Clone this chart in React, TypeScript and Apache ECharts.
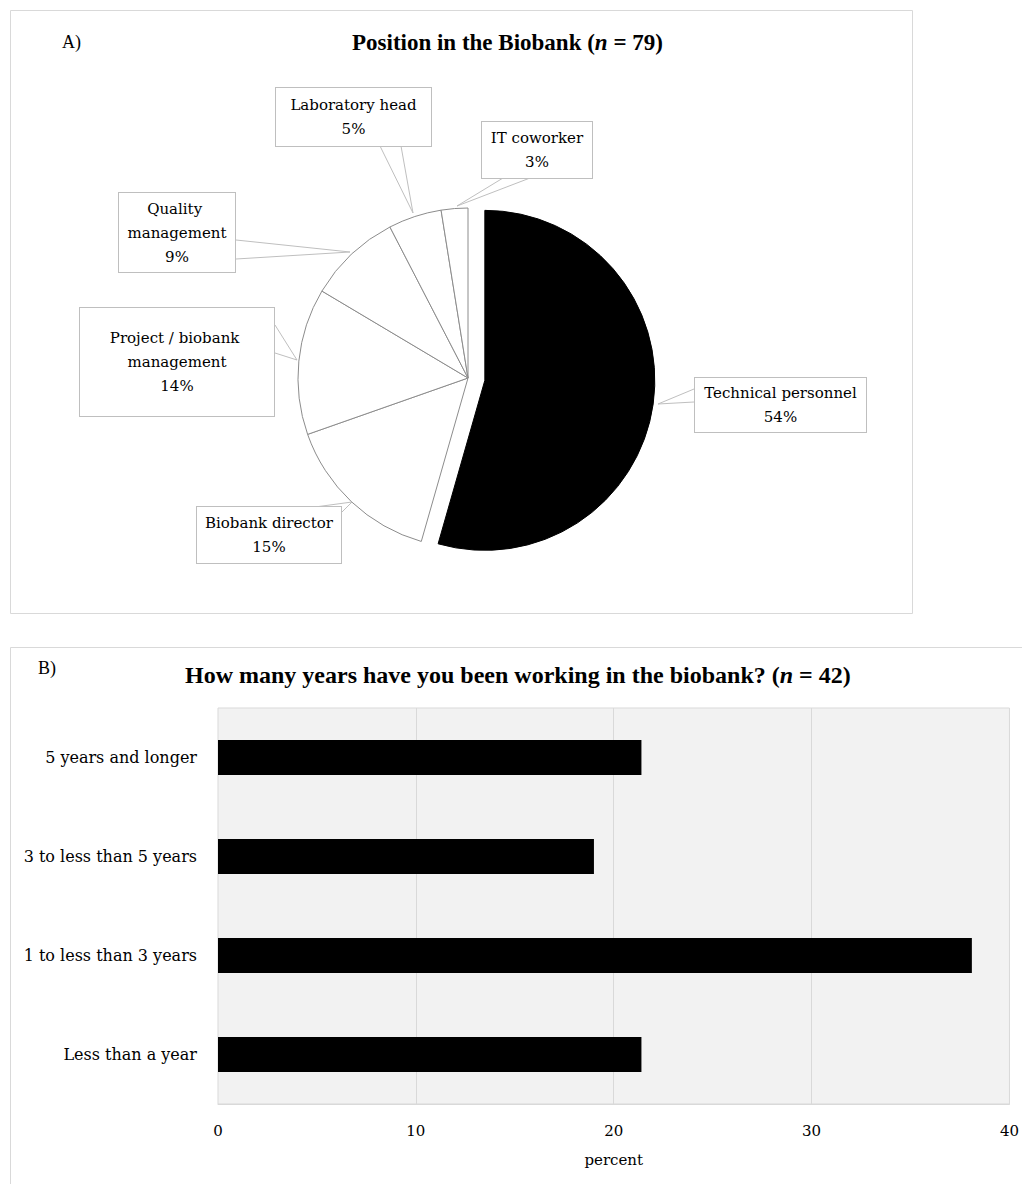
import React, { useEffect, useRef } from "react";
import * as echarts from "echarts";

// ---- Panel A data: position in the biobank (n = 79) ----
const pieCategories = [
  "Technical personnel",
  "Biobank director",
  "Project / biobank management",
  "Quality management",
  "Laboratory head",
  "IT coworker",
];
const pieCounts = [43, 12, 11, 7, 4, 2];
const pieTotal = 79;

// ---- Panel B data: years working in the biobank (n = 42), percent ----
const barCategories = [
  "5 years and longer",
  "3 to less than 5 years",
  "1 to less than 3 years",
  "Less than a year",
];
const barValues = [21.4, 19.0, 38.1, 21.4];

// ---- styling / layout (not data) ----
const PIE_CENTER = [468, 378];
const PIE_RADIUS = 170;
const START_ANGLE = 90;
const EXPLODE = 17; // px offset of the highlighted slice
const pieColors = ["#000000", "#ffffff", "#ffffff", "#ffffff", "#ffffff", "#ffffff"];
const pieBorders = ["#000000", "#8c8c8c", "#8c8c8c", "#8c8c8c", "#8c8c8c", "#8c8c8c"];
// callout boxes: [x0, y0, x1, y1], text width, vertical padding, wrap, wedge points
const calloutBoxes = [
  { box: [694, 378, 867, 432], tw: 171, vp: 3, wrap: false, line: [[694, 389], [658, 404], [694, 402]] },
  { box: [196, 507, 342, 563], tw: 144, vp: 4, wrap: false, line: [[315, 507], [352, 502], [342, 512]] },
  { box: [79, 308, 275, 416], tw: 160, vp: 18, wrap: true, line: [[275, 325], [297, 360], [275, 353]] },
  { box: [118, 193, 236, 272], tw: 100, vp: 3.5, wrap: true, line: [[236, 240], [350, 252], [236, 259]] },
  { box: [275, 88, 432, 146], tw: 155, vp: 5, wrap: false, line: [[380, 146], [413, 213], [401, 146]] },
  { box: [481, 122, 593, 178], tw: 110, vp: 4, wrap: false, line: [[503, 178], [457, 206], [530, 178]] },
];

const SERIF = "'DejaVu Serif', serif";
const TITLE_FONT = "'Liberation Serif', serif";
const CLEAR = "rgba(0,0,0,0)";

export default function App() {
  const ref = useRef<HTMLDivElement>(null);

  useEffect(() => {
    if (!ref.current) return;
    const chart = echarts.init(ref.current, null, { renderer: "svg" });

    // exploded slice (index 0): shift along its mid-angle
    const midDeg = START_ANGLE - (pieCounts[0] / pieTotal) * 180;
    const midRad = (midDeg * Math.PI) / 180;
    const explodedCenter = [
      PIE_CENTER[0] + EXPLODE * Math.cos(midRad),
      PIE_CENTER[1] - EXPLODE * Math.sin(midRad),
    ];

    const pieData = pieCategories.map((name, i) => {
      const b = calloutBoxes[i];
      const w = b.box[2] - b.box[0];
      const hp = Math.max(0, (w - b.tw) / 2 - 1);
      return {
        name,
        value: pieCounts[i],
        itemStyle:
          i === 0
            ? { color: CLEAR, borderWidth: 0 }
            : { color: pieColors[i], borderColor: pieBorders[i], borderWidth: 1 },
        label: {
          width: b.tw,
          overflow: b.wrap ? "break" : "none",
          padding: [b.vp, hp, b.vp, hp],
        },
      };
    });

    const explodedData = pieCategories.map((name, i) => ({
      name,
      value: pieCounts[i],
      itemStyle:
        i === 0
          ? { color: pieColors[i], borderColor: pieBorders[i], borderWidth: 1 }
          : { color: CLEAR, borderWidth: 0 },
    }));

    const option: any = {
      animation: false,
      backgroundColor: "#ffffff",
      graphic: [
        {
          type: "rect",
          shape: { x: 10.5, y: 10.5, width: 902, height: 603 },
          style: { fill: "none", stroke: "#d9d9d9", lineWidth: 1 },
          silent: true,
        },
        {
          type: "rect",
          shape: { x: 10.5, y: 647.5, width: 1100, height: 600 },
          style: { fill: "none", stroke: "#d9d9d9", lineWidth: 1 },
          silent: true,
        },
      ],
      title: [
        {
          text: "A)",
          left: 62,
          top: 31,
          padding: 0,
          textStyle: { fontFamily: TITLE_FONT, fontSize: 18, fontWeight: "normal", color: "#000", lineHeight: 22 },
        },
        {
          text: "Position in the Biobank ({n|n} = 79)",
          left: 352,
          top: 29,
          padding: 0,
          textStyle: {
            fontFamily: TITLE_FONT,
            fontSize: 23,
            fontWeight: "bold",
            color: "#000",
            lineHeight: 26,
            rich: { n: { fontFamily: TITLE_FONT, fontSize: 23, fontWeight: "bold", fontStyle: "italic", color: "#000" } },
          },
        },
        {
          text: "B)",
          left: 38,
          top: 657,
          padding: 0,
          textStyle: { fontFamily: TITLE_FONT, fontSize: 18, fontWeight: "normal", color: "#000", lineHeight: 22 },
        },
        {
          text: "How many years have you been working in the biobank? ({n|n} = 42)",
          left: 185,
          top: 661,
          padding: 0,
          textStyle: {
            fontFamily: TITLE_FONT,
            fontSize: 24,
            fontWeight: "bold",
            color: "#000",
            lineHeight: 28,
            rich: { n: { fontFamily: TITLE_FONT, fontSize: 24, fontWeight: "bold", fontStyle: "italic", color: "#000" } },
          },
        },
      ],
      grid: {
        left: 218,
        right: 11,
        top: 708,
        bottom: 80,
        show: true,
        backgroundColor: "#f2f2f2",
        borderWidth: 1,
        borderColor: "#d9d9d9",
      },
      xAxis: {
        type: "value",
        min: 0,
        max: 40,
        interval: 10,
        name: "percent",
        nameLocation: "middle",
        nameGap: 48,
        nameTextStyle: { fontFamily: SERIF, fontSize: 15, color: "#000" },
        axisLine: { show: true, lineStyle: { color: "#d9d9d9" } },
        axisTick: { show: false },
        axisLabel: { margin: 19, fontFamily: SERIF, fontSize: 15, color: "#000" },
        splitLine: { show: true, showMinLine: false, showMaxLine: false, lineStyle: { color: "#d9d9d9", width: 1 } },
      },
      yAxis: {
        type: "category",
        inverse: true,
        data: barCategories,
        axisLine: { show: false },
        axisTick: { show: false },
        axisLabel: { margin: 21, fontFamily: SERIF, fontSize: 16, color: "#000" },
        splitLine: { show: false },
      },
      series: [
        {
          type: "pie",
          center: PIE_CENTER,
          radius: PIE_RADIUS,
          startAngle: START_ANGLE,
          clockwise: true,
          avoidLabelOverlap: false,
          emphasis: { disabled: true },
          z: 2,
          label: {
            show: true,
            position: "outside",
            fontFamily: SERIF,
            fontSize: 15,
            lineHeight: 24,
            color: "#000",
            align: "center",
            backgroundColor: "#ffffff",
            borderColor: "#bfbfbf",
            borderWidth: 1,
            formatter: (p: any) => `${p.name}\n${Math.round((p.value / pieTotal) * 100)}%`,
          },
          labelLine: {
            show: true,
            smooth: false,
            lineStyle: { color: "#bfbfbf", width: 1 },
          },
          labelLayout: (params: any) => {
            const b = calloutBoxes[params.dataIndex];
            return {
              x: (b.box[0] + b.box[2]) / 2,
              y: (b.box[1] + b.box[3]) / 2,
              align: "center",
              verticalAlign: "middle",
              labelLinePoints: b.line,
            };
          },
          data: pieData,
        },
        {
          type: "pie",
          center: explodedCenter,
          radius: PIE_RADIUS,
          startAngle: START_ANGLE,
          clockwise: true,
          silent: true,
          z: 1,
          emphasis: { disabled: true },
          label: { show: false },
          labelLine: { show: false },
          data: explodedData,
        },
        {
          type: "bar",
          data: barValues,
          barWidth: 35,
          itemStyle: { color: "#000000" },
          emphasis: { disabled: true },
        },
      ],
    };

    chart.setOption(option);
    return () => chart.dispose();
  }, []);

  return (
    <div
      ref={ref}
      style={{ position: "absolute", left: 0, top: 0, width: 1022, height: 1184, background: "#fff" }}
    />
  );
}
